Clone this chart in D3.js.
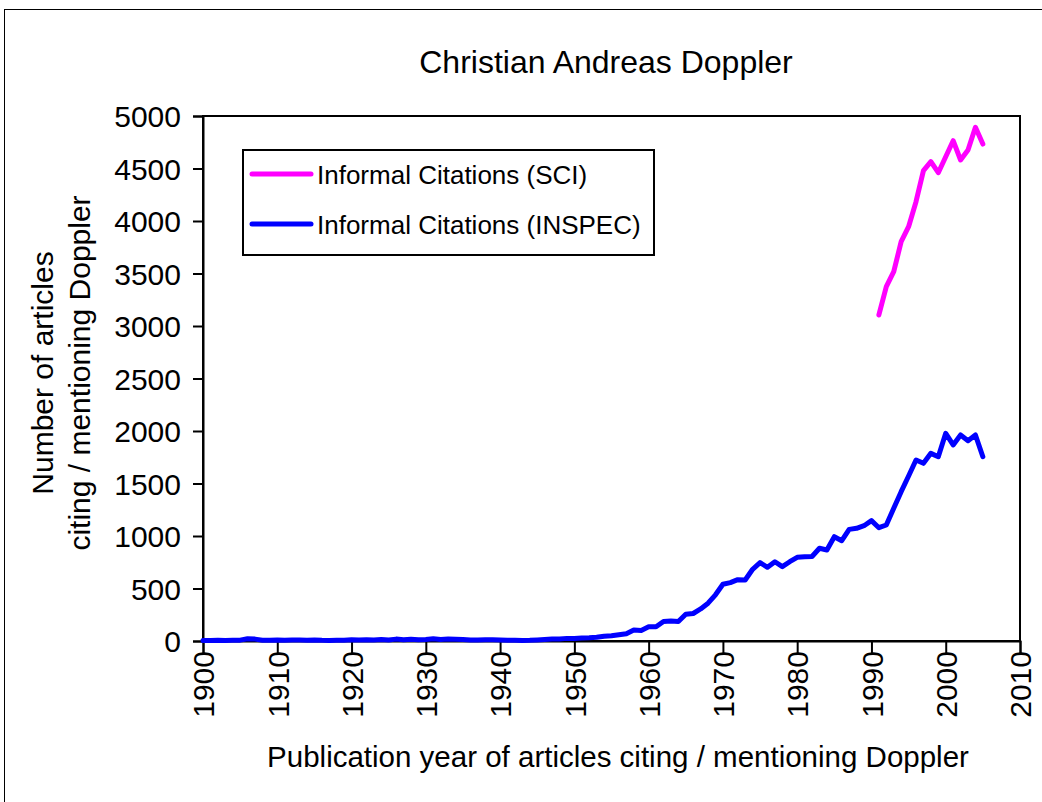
<!DOCTYPE html>
<html>
<head>
<meta charset="utf-8">
<script src="https://cdn.jsdelivr.net/npm/d3@7/dist/d3.min.js"></script>
<style>
  html, body { margin: 0; padding: 0; background: #fff; }
  svg { display: block; font-family: "Liberation Sans", Arial, sans-serif; }
</style>
</head>
<body>
<svg id="chart" width="1042" height="802"></svg>
<script>
const titleText = "Christian Andreas Doppler";
const xTitle = "Publication year of articles citing / mentioning Doppler";
const yTitleLines = ["Number of articles", "citing / mentioning Doppler"];
const seriesNames = ["Informal Citations (SCI)", "Informal Citations (INSPEC)"];
const seriesColors = ["#FF00FF", "#0000FF"];
const xTicks = [1900, 1910, 1920, 1930, 1940, 1950, 1960, 1970, 1980, 1990, 2000, 2010];
const yTicks = [0, 500, 1000, 1500, 2000, 2500, 3000, 3500, 4000, 4500, 5000];

const sciYears = [1991,1992,1993,1994,1995,1996,1997,1998,1999,2000,2001,2002,2003,2004,2005];
const sciValues = [3105,3374,3517,3803,3946,4184,4479,4565,4460,4612,4765,4581,4676,4892,4733];

const inspecYears = d3.range(1900, 2006);
const inspecValues = [
  5,5,6,4,6,8,22,18,8,6,
  10,8,10,9,8,9,6,5,6,8,
  12,10,12,10,15,10,18,12,16,12,
  15,22,15,18,16,14,10,10,12,11,
  10,8,6,5,6,10,14,18,20,25,
  24,28,30,35,45,50,60,70,105,100,
  135,135,185,190,185,255,262,305,360,440,
  540,556,584,581,683,746,702,755,708,755,
  797,803,805,883,867,993,955,1063,1073,1098,
  1146,1079,1105,1264,1422,1571,1724,1692,1787,1755,
  1978,1867,1962,1908,1962,1755
];

const svg = d3.select("#chart");
const L = 203, R = 1020, T = 116, B = 641;

// outer frame
svg.append("rect").attr("x", 4.5).attr("y", 9.5).attr("width", 1100).attr("height", 900)
  .attr("fill", "none").attr("stroke", "#000").attr("stroke-width", 1);

const x = d3.scaleLinear().domain([1900, 2010]).range([L, R]);
const y = d3.scaleLinear().domain([0, 5000]).range([B, T]);

// plot border
svg.append("rect").attr("x", L).attr("y", T).attr("width", R - L).attr("height", B - T)
  .attr("fill", "none").attr("stroke", "#000").attr("stroke-width", 2);

// y axis
const yAxis = svg.append("g").attr("transform", `translate(${L},0)`)
  .call(d3.axisLeft(y).tickValues(yTicks).tickSize(10).tickPadding(12).tickFormat(d3.format("d")));
yAxis.select(".domain").attr("stroke-width", 2);
yAxis.selectAll(".tick line").attr("stroke-width", 2);
yAxis.selectAll(".tick text").attr("font-size", 30).attr("fill", "#000")
  .attr("font-family", "Liberation Sans, Arial, sans-serif").attr("dy", "0.35em");

// x axis
const xAxis = svg.append("g").attr("transform", `translate(0,${B})`)
  .call(d3.axisBottom(x).tickValues(xTicks).tickSize(12).tickFormat(d3.format("d")));
xAxis.select(".domain").attr("stroke-width", 2);
xAxis.selectAll(".tick line").attr("stroke-width", 2);
xAxis.selectAll(".tick text").attr("font-size", 30).attr("fill", "#000")
  .attr("font-family", "Liberation Sans, Arial, sans-serif")
  .attr("transform", "rotate(-90)")
  .attr("text-anchor", "end")
  .attr("x", -10).attr("y", 0).attr("dy", "0.36em");

// lines
const line = d3.line().x(d => x(d[0])).y(d => y(d[1]));
const sciData = sciYears.map((yr, i) => [yr, sciValues[i]]);
const inspecData = inspecYears.map((yr, i) => [yr, inspecValues[i]]);

svg.append("path").datum(inspecData).attr("d", line)
  .attr("fill", "none").attr("stroke", seriesColors[1]).attr("stroke-width", 5)
  .attr("stroke-linejoin", "round").attr("stroke-linecap", "round");
svg.append("path").datum(sciData).attr("d", line)
  .attr("fill", "none").attr("stroke", seriesColors[0]).attr("stroke-width", 5)
  .attr("stroke-linejoin", "round").attr("stroke-linecap", "round");

// title
svg.append("text").attr("x", 606).attr("y", 73).attr("text-anchor", "middle")
  .attr("font-size", 32).attr("fill", "#000").text(titleText);

// x title
svg.append("text").attr("x", 618).attr("y", 767).attr("text-anchor", "middle")
  .attr("font-size", 29.5).attr("fill", "#000").text(xTitle);

// y title
const yt = svg.append("text").attr("transform", "translate(0,373) rotate(-90)")
  .attr("text-anchor", "middle").attr("font-size", 30).attr("fill", "#000");
yt.append("tspan").attr("x", 0).attr("y", 53).text(yTitleLines[0]);
yt.append("tspan").attr("x", 0).attr("y", 90).text(yTitleLines[1]);

// legend
const lg = svg.append("g");
lg.append("rect").attr("x", 243).attr("y", 150).attr("width", 411).attr("height", 105)
  .attr("fill", "#fff").attr("stroke", "#000").attr("stroke-width", 2);
const legendY = [174, 224];
seriesNames.forEach((name, i) => {
  lg.append("line").attr("x1", 252).attr("x2", 311).attr("y1", legendY[i]).attr("y2", legendY[i])
    .attr("stroke", seriesColors[i]).attr("stroke-width", 5).attr("stroke-linecap", "round");
  lg.append("text").attr("x", 317).attr("y", legendY[i] + 10).attr("font-size", 26)
    .attr("fill", "#000").text(name);
});
</script>
</body>
</html>
